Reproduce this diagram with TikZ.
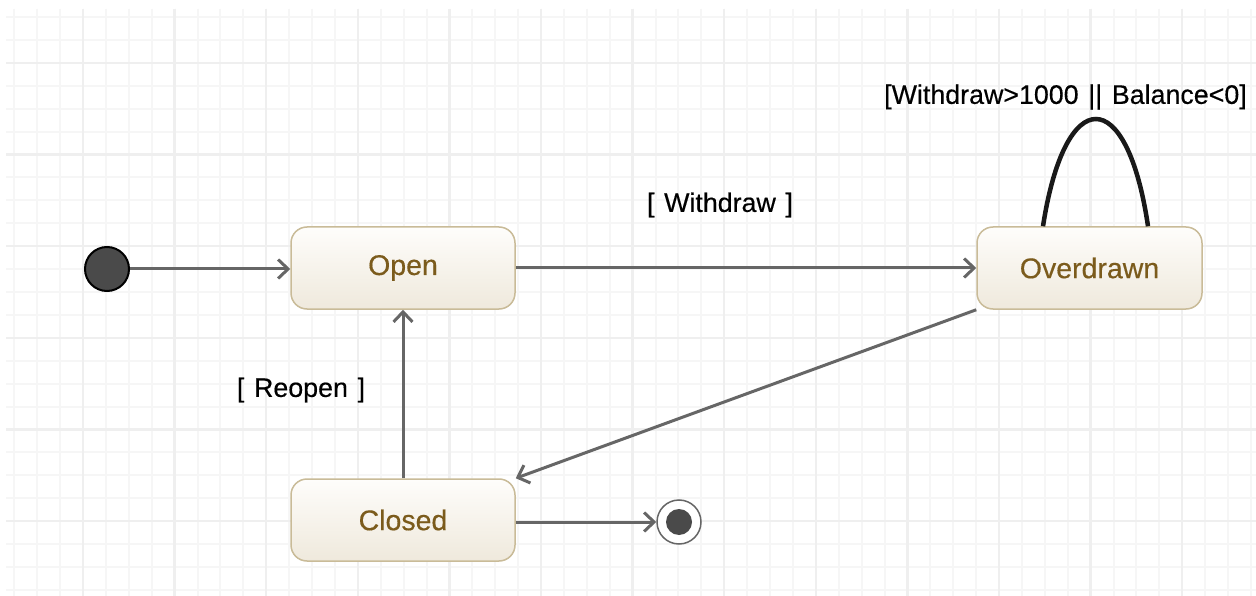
\documentclass[tikz,border=0pt]{standalone}
\usepackage{fontspec}
\setmainfont{Liberation Sans}[FakeBold=0.4]
\newfontfamily\lblfont[WordSpace=1.3,FakeBold=0.4]{Liberation Sans}
\usetikzlibrary{arrows.meta}
\definecolor{gridminor}{HTML}{F6F6F6}
\definecolor{gridmajor}{HTML}{EFEFEF}
\definecolor{statebd}{HTML}{C9BB98}
\definecolor{statetop}{HTML}{FEFDFB}
\definecolor{statebot}{HTML}{EFE9DC}
\definecolor{statetx}{HTML}{7B5B1C}
\definecolor{transcol}{HTML}{666666}
\definecolor{dotfill}{HTML}{4A4A4A}
\tikzset{
  statebox/.style={rounded corners=16pt, minimum width=224pt, minimum height=82pt,
    draw=statebd, line width=1.5pt, top color=statetop, bottom color=statebot,
    text=statetx, font=\fontsize{28.5}{30}\selectfont, inner sep=0pt},
  trans/.style={draw=transcol, line width=3pt,
    -{Straight Barb[length=10pt,width=19pt,line width=3pt]}},
  loopline/.style={draw=black!90, line width=4.5pt},
  lbl/.style={font=\lblfont\fontsize{26.8}{29}\selectfont, text=black, inner sep=0pt},
  gminor/.style={draw=gridminor, line width=2pt},
  gmajor/.style={draw=gridmajor, line width=2.5pt}
}
\begin{document}
\begin{tikzpicture}[x=1pt,y=-1pt]
\useasboundingbox (0,0) rectangle (1256,596);
\fill[white] (0,0) rectangle (1256,596);
% grid
\foreach \i in {0,...,54} { \draw[gminor] ({14.3+22.9*\i},9) -- ({14.3+22.9*\i},596); }
\foreach \j in {0,...,25} { \draw[gminor] (6,{17.2+22.9*\j}) -- (1256,{17.2+22.9*\j}); }
\foreach \i in {0,...,12} { \draw[gmajor] ({83+91.6*\i},9) -- ({83+91.6*\i},596); }
\foreach \j in {0,...,5} { \draw[gmajor] (6,{63+91.6*\j}) -- (1256,{63+91.6*\j}); }
% states
\node[statebox] (open) at (403,268) {Open};
\node[statebox, minimum width=225pt] (over) at (1089.5,268) {Overdrawn};
\node[statebox] (closed) at (403,520) {Closed};
% pseudo states
\node[circle, fill=dotfill, draw=black, line width=2pt, minimum size=44pt, inner sep=0pt] (init) at (107,269) {};
\node[circle, fill=white, draw=black!60, line width=1.5pt, minimum size=44pt, inner sep=0pt] (fin) at (679,522) {};
\node[circle, fill=dotfill, minimum size=26pt, inner sep=0pt] (finin) at (fin) {};
% transitions
\draw[trans] (init.east) -- (init.east -| open.west);
\draw[trans] (open) -- (over);
\draw[trans] (over.south west) -- (closed.north east);
\draw[trans] (closed) -- (open);
\draw[trans] (fin.west -| closed.east) -- (fin.west);
% self loop
\coordinate (la) at ([xshift=-46.5pt]over.north);
\coordinate (lb) at ([xshift=58.5pt]over.north);
\draw[loopline] (la) .. controls +(22,-143) and +(-21,-143) .. (lb);
% labels
\node[lbl] (lw) at (720,205) {[ Withdraw ]};
\node[lbl] (lr) at (301,390) {[ Reopen ]};
\node[lbl] (lg) at (1065.5,97) {[Withdraw>1000 || Balance<0]};
\end{tikzpicture}
\end{document}
